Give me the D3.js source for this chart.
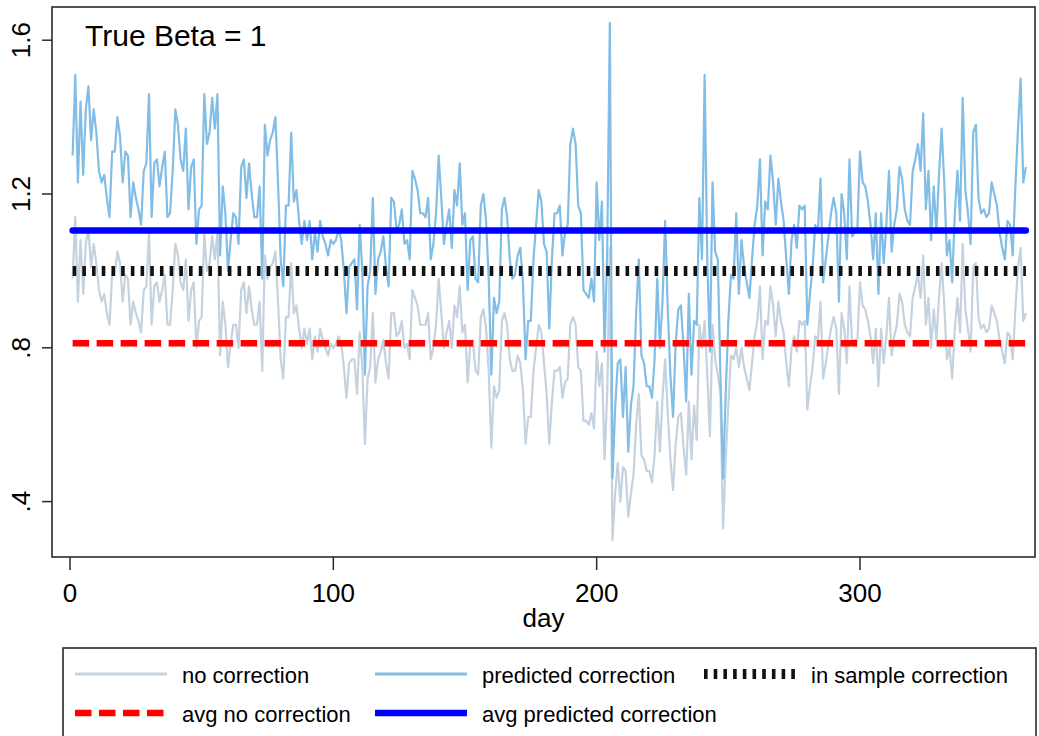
<!DOCTYPE html>
<html><head><meta charset="utf-8">
<script src="https://cdn.jsdelivr.net/npm/d3@7"></script>
<style>
body{margin:0;background:#fff}
svg{display:block}
text{font-family:"Liberation Sans",Arial,Helvetica,sans-serif;fill:#000}
</style>
</head><body>
<svg id="chart" width="1039" height="736"></svg>
<script>
// ---- data ----
const predictedCorrection = [
1.30,1.51,1.23,1.44,1.25,1.42,1.48,1.34,1.42,1.36,1.26,1.23,1.25,1.19,1.14,1.31,1.31,1.40,1.35,1.23,
1.31,1.30,1.14,1.23,1.19,1.16,1.12,1.26,1.28,1.46,1.14,1.28,1.29,1.22,1.27,1.31,1.14,1.15,1.26,1.42,
1.38,1.29,1.26,1.37,1.16,1.27,1.29,1.07,1.16,1.17,1.46,1.33,1.36,1.45,1.37,1.46,1.04,1.22,1.15,1.00,
1.08,1.15,1.14,1.07,1.27,1.29,1.19,1.28,1.20,1.14,1.14,1.22,0.98,1.38,1.30,1.34,1.36,1.40,1.23,1.03,
0.96,1.17,1.17,1.36,1.18,1.21,1.13,1.07,1.13,1.08,1.13,1.03,1.10,1.05,1.13,1.09,1.07,1.04,1.08,1.07,
1.08,1.11,1.08,1.00,0.89,1.01,1.02,1.03,0.90,1.12,1.00,0.73,0.96,1.00,1.19,0.94,1.03,1.05,1.09,1.01,
0.96,1.19,1.18,1.11,1.12,1.16,1.07,1.08,1.03,1.26,1.24,1.21,1.15,1.15,1.14,1.19,1.03,1.07,1.15,1.30,
1.19,1.07,1.12,1.16,1.06,1.21,1.17,1.28,1.12,1.15,0.95,1.08,1.09,0.98,0.97,1.17,1.20,1.13,0.98,0.73,
0.93,0.89,0.92,1.16,1.19,1.14,1.03,0.98,0.99,1.04,1.06,0.97,0.77,0.87,0.87,1.03,1.12,1.21,1.18,1.07,
1.05,0.85,1.03,1.15,1.15,1.17,1.04,1.10,1.12,1.33,1.37,1.33,1.17,1.15,0.95,0.94,0.93,0.98,0.92,1.23,
1.08,1.18,0.79,1.05,1.645,0.46,0.64,0.76,0.77,0.62,0.75,0.53,0.65,0.70,0.89,1.03,0.78,0.76,0.70,0.70,
0.67,0.77,0.98,0.80,0.92,1.13,0.90,0.73,0.62,0.81,0.90,0.91,0.80,0.66,0.94,0.73,0.87,0.86,1.19,1.03,
1.51,1.03,0.79,1.23,1.05,1.03,0.73,0.46,0.68,0.87,0.99,0.98,1.15,0.94,1.08,1.01,0.97,0.93,1.03,1.12,
1.17,1.29,1.04,1.18,1.16,1.30,1.23,1.12,1.24,1.18,1.13,1.03,0.94,1.08,1.12,1.06,1.17,1.16,1.17,0.86,
0.94,1.01,1.12,1.10,1.24,0.97,1.03,1.09,1.15,1.19,1.15,0.92,1.20,1.15,1.03,1.29,1.09,1.10,1.11,1.31,
1.23,1.22,1.18,1.12,1.03,1.15,0.94,1.15,1.02,1.12,1.26,1.05,1.12,1.16,1.27,1.24,1.16,1.13,1.12,1.26,
1.29,1.33,1.26,1.41,1.16,1.26,1.08,1.22,1.10,1.25,1.37,1.23,1.04,1.08,0.97,1.15,1.26,1.13,1.45,1.21,
1.15,1.07,1.36,1.38,1.19,1.15,1.16,1.14,1.15,1.23,1.20,1.17,1.10,1.06,1.03,1.13,1.12,1.04,1.22,1.37,
1.50,1.23,1.27
];
const noCorrection = [
0.98,1.14,0.92,1.08,0.94,1.07,1.11,1.01,1.07,1.02,0.95,0.92,0.94,0.89,0.86,0.99,0.99,1.05,1.02,0.92,
0.99,0.98,0.86,0.92,0.89,0.87,0.84,0.95,0.96,1.10,0.86,0.96,0.97,0.92,0.95,0.99,0.86,0.86,0.95,1.07,
1.04,0.97,0.95,1.03,0.87,0.95,0.97,0.80,0.87,0.88,1.10,1.00,1.02,1.09,1.03,1.10,0.78,0.92,0.86,0.75,
0.81,0.86,0.86,0.80,0.95,0.97,0.89,0.96,0.90,0.86,0.86,0.92,0.74,1.04,0.98,1.01,1.02,1.05,0.92,0.77,
0.72,0.88,0.88,1.02,0.89,0.91,0.85,0.80,0.85,0.81,0.85,0.77,0.83,0.79,0.85,0.82,0.80,0.78,0.81,0.80,
0.81,0.83,0.81,0.75,0.67,0.76,0.77,0.77,0.68,0.84,0.75,0.55,0.72,0.75,0.89,0.71,0.77,0.79,0.82,0.76,
0.72,0.89,0.89,0.83,0.84,0.87,0.80,0.81,0.77,0.95,0.93,0.91,0.86,0.86,0.86,0.89,0.77,0.80,0.86,0.98,
0.89,0.80,0.84,0.87,0.80,0.91,0.88,0.96,0.84,0.86,0.71,0.81,0.82,0.74,0.73,0.88,0.90,0.85,0.74,0.54,
0.70,0.67,0.69,0.87,0.89,0.86,0.77,0.74,0.74,0.78,0.76,0.69,0.55,0.62,0.62,0.74,0.80,0.86,0.84,0.76,
0.68,0.55,0.66,0.74,0.74,0.75,0.67,0.71,0.72,0.86,0.88,0.86,0.75,0.74,0.61,0.61,0.60,0.63,0.59,0.79,
0.70,0.76,0.51,0.68,1.06,0.30,0.42,0.50,0.40,0.49,0.48,0.36,0.42,0.47,0.60,0.68,0.52,0.51,0.48,0.48,
0.45,0.52,0.66,0.53,0.67,0.77,0.63,0.51,0.43,0.55,0.62,0.63,0.54,0.47,0.66,0.51,0.65,0.56,0.86,0.80,
0.87,0.73,0.57,0.86,0.77,0.73,0.68,0.33,0.51,0.65,0.78,0.77,0.80,0.75,0.80,0.75,0.72,0.69,0.76,0.83,
0.87,0.96,0.77,0.87,0.86,0.96,0.91,0.83,0.92,0.87,0.84,0.76,0.70,0.80,0.83,0.79,0.87,0.86,0.87,0.64,
0.70,0.75,0.83,0.82,0.92,0.72,0.76,0.81,0.85,0.88,0.85,0.68,0.89,0.85,0.76,0.96,0.81,0.82,0.82,0.97,
0.91,0.90,0.87,0.83,0.76,0.85,0.70,0.85,0.76,0.83,0.93,0.78,0.83,0.86,0.94,0.92,0.86,0.84,0.83,0.93,
0.96,0.99,0.93,1.04,0.86,0.93,0.80,0.90,0.82,0.93,1.02,0.91,0.77,0.80,0.72,0.85,0.93,0.84,1.07,0.90,
0.85,0.79,1.01,1.02,0.88,0.85,0.86,0.84,0.85,0.91,0.89,0.87,0.82,0.79,0.76,0.84,0.83,0.77,0.90,1.01,
1.06,0.87,0.89
];
const firstDay = 1;
const inSampleCorrection = 1.0;
const avgNoCorrection = 0.812;
const avgPredictedCorrection = 1.105;
const xTicks = [0, 100, 200, 300];
const yTicks = [0.4, 0.8, 1.2, 1.6];
const yTickLabels = [".4", ".8", "1.2", "1.6"];
const legendLabels = ["no correction", "predicted correction", "in sample correction", "avg no correction", "avg predicted correction"];
const titleText = "True Beta = 1";
const xTitle = "day";

// ---- layout ----
const svg = d3.select("#chart");
const frame = {left: 52, right: 1035, top: 7, bottom: 557};
const x = d3.scaleLinear().domain([0, 300]).range([70, 860]);
const y = d3.scaleLinear().domain([0.4, 1.6]).range([501.6, 40.2]);
const days = predictedCorrection.map((_, i) => firstDay + i);
const lastDay = days[days.length - 1];

const C = {
  noCorr: "#c4d2df",
  pred: "#82bde6",
  inSample: "#111111",
  avgNo: "#ff0000",
  avgPred: "#0000ff"
};

// plot frame
svg.append("rect").attr("x", frame.left).attr("y", frame.top)
  .attr("width", frame.right - frame.left).attr("height", frame.bottom - frame.top)
  .attr("fill", "#fff").attr("stroke", "#2a2a2a").attr("stroke-width", 1.6);

const line = d3.line().x((d, i) => x(days[i])).y(d => y(d));

svg.append("path").datum(noCorrection).attr("d", line)
  .attr("fill", "none").attr("stroke", C.noCorr).attr("stroke-width", 2.2).attr("stroke-linejoin", "round");
svg.append("path").datum(predictedCorrection).attr("d", line)
  .attr("fill", "none").attr("stroke", C.pred).attr("stroke-width", 2.2).attr("stroke-linejoin", "round");

const hline = (v, color, w, dash, cap) => svg.append("line")
  .attr("x1", x(firstDay)).attr("x2", x(lastDay))
  .attr("y1", y(v)).attr("y2", y(v))
  .attr("stroke", color).attr("stroke-width", w)
  .attr("stroke-dasharray", dash).attr("stroke-linecap", cap);

hline(inSampleCorrection, C.inSample, 10, "3.6 6.1", "butt");
hline(avgNoCorrection, C.avgNo, 6.5, "16.5 7.5", "butt");
hline(avgPredictedCorrection, C.avgPred, 6.5, null, "round");

// title inside
svg.append("text").attr("x", 85).attr("y", 46).attr("font-size", 30).text(titleText);

// x axis
const gx = svg.append("g");
xTicks.forEach(t => {
  gx.append("line").attr("x1", x(t)).attr("x2", x(t)).attr("y1", frame.bottom).attr("y2", frame.bottom + 13)
    .attr("stroke", "#2a2a2a").attr("stroke-width", 1.5);
  gx.append("text").attr("x", x(t)).attr("y", 602).attr("text-anchor", "middle").attr("font-size", 26).text(t);
});
svg.append("text").attr("x", (frame.left + frame.right) / 2).attr("y", 627)
  .attr("text-anchor", "middle").attr("font-size", 26).text(xTitle);

// y axis
const gy = svg.append("g");
yTicks.forEach((t, i) => {
  gy.append("line").attr("x1", frame.left - 10).attr("x2", frame.left).attr("y1", y(t)).attr("y2", y(t))
    .attr("stroke", "#2a2a2a").attr("stroke-width", 1.5);
  gy.append("text").attr("transform", `translate(30,${y(t)}) rotate(-90)`)
    .attr("text-anchor", "middle").attr("font-size", 26).text(yTickLabels[i]);
});

// legend
const lg = svg.append("g");
lg.append("rect").attr("x", 63).attr("y", 648).attr("width", 973).attr("height", 100)
  .attr("fill", "#fff").attr("stroke", "#2a2a2a").attr("stroke-width", 1.6);
const items = [
  {label: legendLabels[0], x: 75, y: 674, color: C.noCorr, w: 2.8, dash: null},
  {label: legendLabels[1], x: 375, y: 674, color: C.pred, w: 2.8, dash: null},
  {label: legendLabels[2], x: 704, y: 674, color: C.inSample, w: 10, dash: "3.6 6.1"},
  {label: legendLabels[3], x: 75, y: 713, color: C.avgNo, w: 6.5, dash: "16.5 7.5"},
  {label: legendLabels[4], x: 375, y: 713, color: C.avgPred, w: 6.5, dash: null}
];
items.forEach(it => {
  lg.append("line").attr("x1", it.x).attr("x2", it.x + 92).attr("y1", it.y).attr("y2", it.y)
    .attr("stroke", it.color).attr("stroke-width", it.w).attr("stroke-dasharray", it.dash);
  lg.append("text").attr("x", it.x + 107).attr("y", it.y + 9).attr("font-size", 22).text(it.label);
});
</script>
</body></html>
